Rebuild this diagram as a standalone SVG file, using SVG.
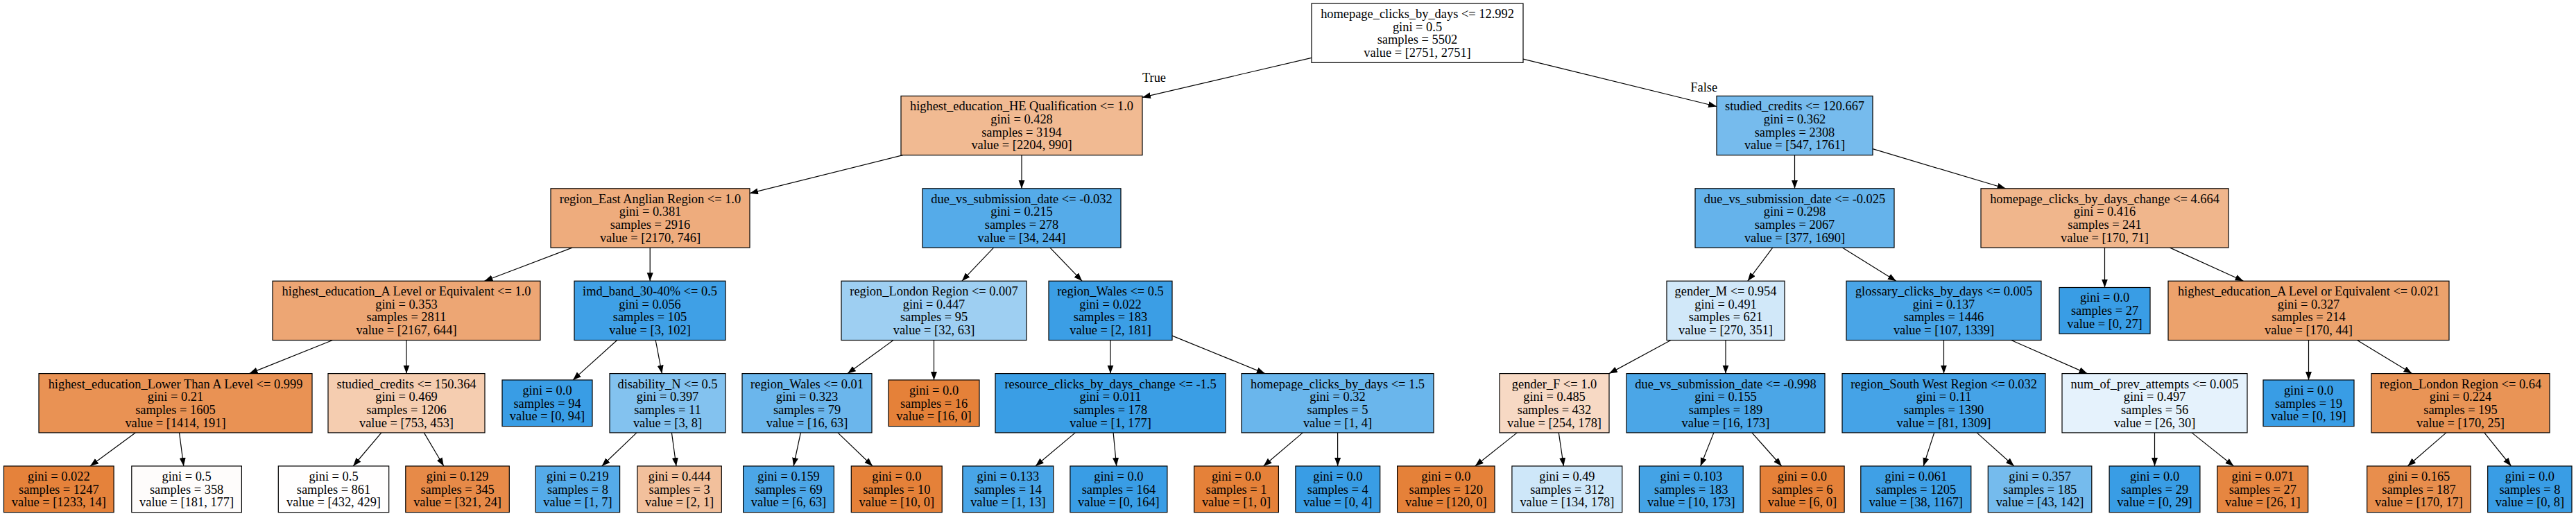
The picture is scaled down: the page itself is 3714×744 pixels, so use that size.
<svg xmlns="http://www.w3.org/2000/svg" width="3714" height="744" viewBox="0 0 3714 744">
<defs>
<marker id="ah" markerUnits="userSpaceOnUse" markerWidth="13" markerHeight="10" refX="12" refY="4.5" orient="auto">
<path d="M0,0 L12,4.5 L0,9 z" fill="#000"/>
</marker>
<style>
.n rect{stroke:#000;stroke-width:1.2}
text{font-family:"Liberation Serif","Times New Roman",serif;font-size:18.4px;fill:#000;text-anchor:middle}
#edges line{stroke:#000;stroke-width:1.2;marker-end:url(#ah)}
</style>
</defs>
<rect width="3714" height="744" fill="#fff"/>
<g id="edges">
<line x1="1891" y1="83.3" x2="1647" y2="140.4"/>
<line x1="2196" y1="85.1" x2="2475" y2="153.5"/>
<line x1="1301.8" y1="223.7" x2="1081" y2="278.7"/>
<line x1="1473" y1="223.7" x2="1473" y2="271.8"/>
<line x1="2587.5" y1="223.7" x2="2587.5" y2="271.8"/>
<line x1="2700" y1="214.6" x2="2891.6" y2="271.8"/>
<line x1="825.1" y1="357.1" x2="698.4" y2="405.2"/>
<line x1="937.2" y1="357.1" x2="937.2" y2="405.2"/>
<line x1="1432.6" y1="357.1" x2="1386.9" y2="405.2"/>
<line x1="1513.9" y1="357.1" x2="1560.1" y2="405.2"/>
<line x1="2555.7" y1="357.1" x2="2519.8" y2="405.2"/>
<line x1="2656.2" y1="357.1" x2="2733.8" y2="405.2"/>
<line x1="3034.5" y1="357.1" x2="3034.5" y2="414.5"/>
<line x1="3128.5" y1="357.1" x2="3234.5" y2="405.2"/>
<line x1="479.5" y1="490.5" x2="359.5" y2="538.6"/>
<line x1="586" y1="490.5" x2="586" y2="538.6"/>
<line x1="889.7" y1="490.5" x2="826" y2="547.9"/>
<line x1="945.2" y1="490.5" x2="954.4" y2="538.6"/>
<line x1="1288" y1="490.5" x2="1222" y2="538.6"/>
<line x1="1346.5" y1="490.5" x2="1346.5" y2="547.9"/>
<line x1="1601" y1="490.5" x2="1601" y2="538.6"/>
<line x1="1690" y1="484.1" x2="1823.8" y2="538.6"/>
<line x1="2409" y1="490.5" x2="2320" y2="538.6"/>
<line x1="2488" y1="490.5" x2="2488" y2="538.6"/>
<line x1="2802.5" y1="490.5" x2="2802.5" y2="538.6"/>
<line x1="2899.7" y1="490.5" x2="3009.3" y2="538.6"/>
<line x1="3328.5" y1="490.5" x2="3328.5" y2="547.9"/>
<line x1="3398.5" y1="490.5" x2="3477.5" y2="538.6"/>
<line x1="195.2" y1="623.9" x2="130" y2="672"/>
<line x1="258.5" y1="623.9" x2="264.8" y2="672"/>
<line x1="549.9" y1="623.9" x2="509.2" y2="672"/>
<line x1="611.3" y1="623.9" x2="639.8" y2="672"/>
<line x1="918" y1="623.9" x2="867.7" y2="672"/>
<line x1="968.4" y1="623.9" x2="975" y2="672"/>
<line x1="1154.4" y1="623.9" x2="1144.1" y2="672"/>
<line x1="1207.9" y1="623.9" x2="1258" y2="672"/>
<line x1="1550.3" y1="623.9" x2="1493" y2="672"/>
<line x1="1605.1" y1="623.9" x2="1609.7" y2="672"/>
<line x1="1878.3" y1="623.9" x2="1821.7" y2="672"/>
<line x1="1928.6" y1="623.9" x2="1928.6" y2="672"/>
<line x1="2187.3" y1="623.9" x2="2126.8" y2="672"/>
<line x1="2247.3" y1="623.9" x2="2254.4" y2="672"/>
<line x1="2470.9" y1="623.9" x2="2451.7" y2="672"/>
<line x1="2525.9" y1="623.9" x2="2568.7" y2="672"/>
<line x1="2788.7" y1="623.9" x2="2773.1" y2="672"/>
<line x1="2850.1" y1="623.9" x2="2903.8" y2="672"/>
<line x1="3106.5" y1="623.9" x2="3106.5" y2="672"/>
<line x1="3160" y1="623.9" x2="3220.4" y2="672"/>
<line x1="3526.9" y1="623.9" x2="3471.3" y2="672"/>
<line x1="3581.8" y1="623.9" x2="3620.5" y2="672"/>
<text x="1664" y="118">True</text>
<text x="2456.7" y="131.5">False</text>
</g>
<g id="n0" class="n"><rect x="1891" y="5" width="305" height="85.3" fill="#ffffff"/><text x="2043.5" y="25.9">homepage_clicks_by_days &lt;= 12.992<tspan x="2043.5" y="44.6">gini = 0.5</tspan><tspan x="2043.5" y="63.2">samples = 5502</tspan><tspan x="2043.5" y="81.9">value = [2751, 2751]</tspan></text></g>
<g id="n1" class="n"><rect x="1299" y="138.4" width="348" height="85.3" fill="#f1ba92"/><text x="1473" y="159.3">highest_education_HE Qualification &lt;= 1.0<tspan x="1473" y="178">gini = 0.428</tspan><tspan x="1473" y="196.6">samples = 3194</tspan><tspan x="1473" y="215.3">value = [2204, 990]</tspan></text></g>
<g id="n2" class="n"><rect x="2475" y="138.4" width="225" height="85.3" fill="#76bbed"/><text x="2587.5" y="159.3">studied_credits &lt;= 120.667<tspan x="2587.5" y="178">gini = 0.362</tspan><tspan x="2587.5" y="196.6">samples = 2308</tspan><tspan x="2587.5" y="215.3">value = [547, 1761]</tspan></text></g>
<g id="n3" class="n"><rect x="794" y="271.8" width="287" height="85.3" fill="#eeac7d"/><text x="937.5" y="292.7">region_East Anglian Region &lt;= 1.0<tspan x="937.5" y="311.4">gini = 0.381</tspan><tspan x="937.5" y="330">samples = 2916</tspan><tspan x="937.5" y="348.7">value = [2170, 746]</tspan></text></g>
<g id="n4" class="n"><rect x="1330" y="271.8" width="286" height="85.3" fill="#55abe9"/><text x="1473" y="292.7">due_vs_submission_date &lt;= -0.032<tspan x="1473" y="311.4">gini = 0.215</tspan><tspan x="1473" y="330">samples = 278</tspan><tspan x="1473" y="348.7">value = [34, 244]</tspan></text></g>
<g id="n5" class="n"><rect x="2444" y="271.8" width="287" height="85.3" fill="#65b3eb"/><text x="2587.5" y="292.7">due_vs_submission_date &lt;= -0.025<tspan x="2587.5" y="311.4">gini = 0.298</tspan><tspan x="2587.5" y="330">samples = 2067</tspan><tspan x="2587.5" y="348.7">value = [377, 1690]</tspan></text></g>
<g id="n6" class="n"><rect x="2856" y="271.8" width="357" height="85.3" fill="#f0b68c"/><text x="3034.5" y="292.7">homepage_clicks_by_days_change &lt;= 4.664<tspan x="3034.5" y="311.4">gini = 0.416</tspan><tspan x="3034.5" y="330">samples = 241</tspan><tspan x="3034.5" y="348.7">value = [170, 71]</tspan></text></g>
<g id="n7" class="n"><rect x="393" y="405.2" width="386" height="85.3" fill="#eda674"/><text x="586" y="426.1">highest_education_A Level or Equivalent &lt;= 1.0<tspan x="586" y="444.8">gini = 0.353</tspan><tspan x="586" y="463.4">samples = 2811</tspan><tspan x="586" y="482.1">value = [2167, 644]</tspan></text></g>
<g id="n8" class="n"><rect x="828" y="405.2" width="218" height="85.3" fill="#3fa0e6"/><text x="937" y="426.1">imd_band_30-40% &lt;= 0.5<tspan x="937" y="444.8">gini = 0.056</tspan><tspan x="937" y="463.4">samples = 105</tspan><tspan x="937" y="482.1">value = [3, 102]</tspan></text></g>
<g id="n9" class="n"><rect x="1213" y="405.2" width="267" height="85.3" fill="#9ecff2"/><text x="1346.5" y="426.1">region_London Region &lt;= 0.007<tspan x="1346.5" y="444.8">gini = 0.447</tspan><tspan x="1346.5" y="463.4">samples = 95</tspan><tspan x="1346.5" y="482.1">value = [32, 63]</tspan></text></g>
<g id="n10" class="n"><rect x="1512" y="405.2" width="178" height="85.3" fill="#3b9ee5"/><text x="1601" y="426.1">region_Wales &lt;= 0.5<tspan x="1601" y="444.8">gini = 0.022</tspan><tspan x="1601" y="463.4">samples = 183</tspan><tspan x="1601" y="482.1">value = [2, 181]</tspan></text></g>
<g id="n11" class="n"><rect x="2403" y="405.2" width="170" height="85.3" fill="#d1e8f9"/><text x="2488" y="426.1">gender_M &lt;= 0.954<tspan x="2488" y="444.8">gini = 0.491</tspan><tspan x="2488" y="463.4">samples = 621</tspan><tspan x="2488" y="482.1">value = [270, 351]</tspan></text></g>
<g id="n12" class="n"><rect x="2662" y="405.2" width="281" height="85.3" fill="#49a5e7"/><text x="2802.5" y="426.1">glossary_clicks_by_days &lt;= 0.005<tspan x="2802.5" y="444.8">gini = 0.137</tspan><tspan x="2802.5" y="463.4">samples = 1446</tspan><tspan x="2802.5" y="482.1">value = [107, 1339]</tspan></text></g>
<g id="n13" class="n"><rect x="2969" y="414.5" width="131" height="66.7" fill="#399de5"/><text x="3034.5" y="435.4">gini = 0.0<tspan x="3034.5" y="454.1">samples = 27</tspan><tspan x="3034.5" y="472.8">value = [0, 27]</tspan></text></g>
<g id="n14" class="n"><rect x="3126" y="405.2" width="405" height="85.3" fill="#eca26c"/><text x="3328.5" y="426.1">highest_education_A Level or Equivalent &lt;= 0.021<tspan x="3328.5" y="444.8">gini = 0.327</tspan><tspan x="3328.5" y="463.4">samples = 214</tspan><tspan x="3328.5" y="482.1">value = [170, 44]</tspan></text></g>
<g id="n15" class="n"><rect x="56" y="538.6" width="394" height="85.3" fill="#e99254"/><text x="253" y="559.5">highest_education_Lower Than A Level &lt;= 0.999<tspan x="253" y="578.2">gini = 0.21</tspan><tspan x="253" y="596.8">samples = 1605</tspan><tspan x="253" y="615.5">value = [1414, 191]</tspan></text></g>
<g id="n16" class="n"><rect x="473" y="538.6" width="226" height="85.3" fill="#f5cdb0"/><text x="586" y="559.5">studied_credits &lt;= 150.364<tspan x="586" y="578.2">gini = 0.469</tspan><tspan x="586" y="596.8">samples = 1206</tspan><tspan x="586" y="615.5">value = [753, 453]</tspan></text></g>
<g id="n17" class="n"><rect x="724" y="547.9" width="130" height="66.7" fill="#399de5"/><text x="789" y="568.8">gini = 0.0<tspan x="789" y="587.5">samples = 94</tspan><tspan x="789" y="606.2">value = [0, 94]</tspan></text></g>
<g id="n18" class="n"><rect x="879" y="538.6" width="167" height="85.3" fill="#83c2ef"/><text x="962.5" y="559.5">disability_N &lt;= 0.5<tspan x="962.5" y="578.2">gini = 0.397</tspan><tspan x="962.5" y="596.8">samples = 11</tspan><tspan x="962.5" y="615.5">value = [3, 8]</tspan></text></g>
<g id="n19" class="n"><rect x="1070" y="538.6" width="187" height="85.3" fill="#6bb6ec"/><text x="1163.5" y="559.5">region_Wales &lt;= 0.01<tspan x="1163.5" y="578.2">gini = 0.323</tspan><tspan x="1163.5" y="596.8">samples = 79</tspan><tspan x="1163.5" y="615.5">value = [16, 63]</tspan></text></g>
<g id="n20" class="n"><rect x="1281" y="547.9" width="131" height="66.7" fill="#e58139"/><text x="1346.5" y="568.8">gini = 0.0<tspan x="1346.5" y="587.5">samples = 16</tspan><tspan x="1346.5" y="606.2">value = [16, 0]</tspan></text></g>
<g id="n21" class="n"><rect x="1435" y="538.6" width="332" height="85.3" fill="#3a9ee5"/><text x="1601" y="559.5">resource_clicks_by_days_change &lt;= -1.5<tspan x="1601" y="578.2">gini = 0.011</tspan><tspan x="1601" y="596.8">samples = 178</tspan><tspan x="1601" y="615.5">value = [1, 177]</tspan></text></g>
<g id="n22" class="n"><rect x="1790" y="538.6" width="277" height="85.3" fill="#6ab6ec"/><text x="1928.5" y="559.5">homepage_clicks_by_days &lt;= 1.5<tspan x="1928.5" y="578.2">gini = 0.32</tspan><tspan x="1928.5" y="596.8">samples = 5</tspan><tspan x="1928.5" y="615.5">value = [1, 4]</tspan></text></g>
<g id="n23" class="n"><rect x="2162" y="538.6" width="158" height="85.3" fill="#f7d9c4"/><text x="2241" y="559.5">gender_F &lt;= 1.0<tspan x="2241" y="578.2">gini = 0.485</tspan><tspan x="2241" y="596.8">samples = 432</tspan><tspan x="2241" y="615.5">value = [254, 178]</tspan></text></g>
<g id="n24" class="n"><rect x="2345" y="538.6" width="286" height="85.3" fill="#4ba6e7"/><text x="2488" y="559.5">due_vs_submission_date &lt;= -0.998<tspan x="2488" y="578.2">gini = 0.155</tspan><tspan x="2488" y="596.8">samples = 189</tspan><tspan x="2488" y="615.5">value = [16, 173]</tspan></text></g>
<g id="n25" class="n"><rect x="2656" y="538.6" width="293" height="85.3" fill="#45a3e7"/><text x="2802.5" y="559.5">region_South West Region &lt;= 0.032<tspan x="2802.5" y="578.2">gini = 0.11</tspan><tspan x="2802.5" y="596.8">samples = 1390</tspan><tspan x="2802.5" y="615.5">value = [81, 1309]</tspan></text></g>
<g id="n26" class="n"><rect x="2973" y="538.6" width="267" height="85.3" fill="#e5f2fc"/><text x="3106.5" y="559.5">num_of_prev_attempts &lt;= 0.005<tspan x="3106.5" y="578.2">gini = 0.497</tspan><tspan x="3106.5" y="596.8">samples = 56</tspan><tspan x="3106.5" y="615.5">value = [26, 30]</tspan></text></g>
<g id="n27" class="n"><rect x="3263" y="547.9" width="131" height="66.7" fill="#399de5"/><text x="3328.5" y="568.8">gini = 0.0<tspan x="3328.5" y="587.5">samples = 19</tspan><tspan x="3328.5" y="606.2">value = [0, 19]</tspan></text></g>
<g id="n28" class="n"><rect x="3419" y="538.6" width="257" height="85.3" fill="#e99456"/><text x="3547.5" y="559.5">region_London Region &lt;= 0.64<tspan x="3547.5" y="578.2">gini = 0.224</tspan><tspan x="3547.5" y="596.8">samples = 195</tspan><tspan x="3547.5" y="615.5">value = [170, 25]</tspan></text></g>
<g id="l1" class="n"><rect x="5.5" y="672" width="158.6" height="66.7" fill="#e5823b"/><text x="84.8" y="692.9">gini = 0.022<tspan x="84.8" y="711.6">samples = 1247</tspan><tspan x="84.8" y="730.3">value = [1233, 14]</tspan></text></g>
<g id="l2" class="n"><rect x="189.8" y="672" width="158.6" height="66.7" fill="#fefcfb"/><text x="269.1" y="692.9">gini = 0.5<tspan x="269.1" y="711.6">samples = 358</tspan><tspan x="269.1" y="730.3">value = [181, 177]</tspan></text></g>
<g id="l3" class="n"><rect x="401.3" y="672" width="159.4" height="66.7" fill="#fffefe"/><text x="481" y="692.9">gini = 0.5<tspan x="481" y="711.6">samples = 861</tspan><tspan x="481" y="730.3">value = [432, 429]</tspan></text></g>
<g id="l4" class="n"><rect x="584.8" y="672" width="149.5" height="66.7" fill="#e78a48"/><text x="659.6" y="692.9">gini = 0.129<tspan x="659.6" y="711.6">samples = 345</tspan><tspan x="659.6" y="730.3">value = [321, 24]</tspan></text></g>
<g id="l5" class="n"><rect x="772.2" y="672" width="121.4" height="66.7" fill="#55abe9"/><text x="832.9" y="692.9">gini = 0.219<tspan x="832.9" y="711.6">samples = 8</tspan><tspan x="832.9" y="730.3">value = [1, 7]</tspan></text></g>
<g id="l6" class="n"><rect x="918.9" y="672" width="121.4" height="66.7" fill="#f2c09c"/><text x="979.6" y="692.9">gini = 0.444<tspan x="979.6" y="711.6">samples = 3</tspan><tspan x="979.6" y="730.3">value = [2, 1]</tspan></text></g>
<g id="l7" class="n"><rect x="1071.6" y="672" width="130.8" height="66.7" fill="#4ca6e7"/><text x="1137" y="692.9">gini = 0.159<tspan x="1137" y="711.6">samples = 69</tspan><tspan x="1137" y="730.3">value = [6, 63]</tspan></text></g>
<g id="l8" class="n"><rect x="1227.3" y="672" width="130.9" height="66.7" fill="#e58139"/><text x="1292.8" y="692.9">gini = 0.0<tspan x="1292.8" y="711.6">samples = 10</tspan><tspan x="1292.8" y="730.3">value = [10, 0]</tspan></text></g>
<g id="l9" class="n"><rect x="1387.9" y="672" width="130.9" height="66.7" fill="#48a5e7"/><text x="1453.4" y="692.9">gini = 0.133<tspan x="1453.4" y="711.6">samples = 14</tspan><tspan x="1453.4" y="730.3">value = [1, 13]</tspan></text></g>
<g id="l10" class="n"><rect x="1542.9" y="672" width="140" height="66.7" fill="#399de5"/><text x="1612.9" y="692.9">gini = 0.0<tspan x="1612.9" y="711.6">samples = 164</tspan><tspan x="1612.9" y="730.3">value = [0, 164]</tspan></text></g>
<g id="l11" class="n"><rect x="1721.6" y="672" width="121.8" height="66.7" fill="#e58139"/><text x="1782.5" y="692.9">gini = 0.0<tspan x="1782.5" y="711.6">samples = 1</tspan><tspan x="1782.5" y="730.3">value = [1, 0]</tspan></text></g>
<g id="l12" class="n"><rect x="1867.9" y="672" width="121.8" height="66.7" fill="#399de5"/><text x="1928.8" y="692.9">gini = 0.0<tspan x="1928.8" y="711.6">samples = 4</tspan><tspan x="1928.8" y="730.3">value = [0, 4]</tspan></text></g>
<g id="l13" class="n"><rect x="2014.6" y="672" width="140.4" height="66.7" fill="#e58139"/><text x="2084.8" y="692.9">gini = 0.0<tspan x="2084.8" y="711.6">samples = 120</tspan><tspan x="2084.8" y="730.3">value = [120, 0]</tspan></text></g>
<g id="l14" class="n"><rect x="2179.9" y="672" width="158.9" height="66.7" fill="#cee7f9"/><text x="2259.4" y="692.9">gini = 0.49<tspan x="2259.4" y="711.6">samples = 312</tspan><tspan x="2259.4" y="730.3">value = [134, 178]</tspan></text></g>
<g id="l15" class="n"><rect x="2363.4" y="672" width="149.8" height="66.7" fill="#44a3e6"/><text x="2438.3" y="692.9">gini = 0.103<tspan x="2438.3" y="711.6">samples = 183</tspan><tspan x="2438.3" y="730.3">value = [10, 173]</tspan></text></g>
<g id="l16" class="n"><rect x="2537.7" y="672" width="121.4" height="66.7" fill="#e58139"/><text x="2598.4" y="692.9">gini = 0.0<tspan x="2598.4" y="711.6">samples = 6</tspan><tspan x="2598.4" y="730.3">value = [6, 0]</tspan></text></g>
<g id="l17" class="n"><rect x="2682.8" y="672" width="159" height="66.7" fill="#3fa0e6"/><text x="2762.3" y="692.9">gini = 0.061<tspan x="2762.3" y="711.6">samples = 1205</tspan><tspan x="2762.3" y="730.3">value = [38, 1167]</tspan></text></g>
<g id="l18" class="n"><rect x="2866.3" y="672" width="149.5" height="66.7" fill="#75bbed"/><text x="2941.1" y="692.9">gini = 0.357<tspan x="2941.1" y="711.6">samples = 185</tspan><tspan x="2941.1" y="730.3">value = [43, 142]</tspan></text></g>
<g id="l19" class="n"><rect x="3041.1" y="672" width="130.8" height="66.7" fill="#399de5"/><text x="3106.5" y="692.9">gini = 0.0<tspan x="3106.5" y="711.6">samples = 29</tspan><tspan x="3106.5" y="730.3">value = [0, 29]</tspan></text></g>
<g id="l20" class="n"><rect x="3196.8" y="672" width="130.9" height="66.7" fill="#e68641"/><text x="3262.3" y="692.9">gini = 0.071<tspan x="3262.3" y="711.6">samples = 27</tspan><tspan x="3262.3" y="730.3">value = [26, 1]</tspan></text></g>
<g id="l21" class="n"><rect x="3412.7" y="672" width="149.5" height="66.7" fill="#e88e4d"/><text x="3487.5" y="692.9">gini = 0.165<tspan x="3487.5" y="711.6">samples = 187</tspan><tspan x="3487.5" y="730.3">value = [170, 17]</tspan></text></g>
<g id="l22" class="n"><rect x="3586.7" y="672" width="121.3" height="66.7" fill="#399de5"/><text x="3647.4" y="692.9">gini = 0.0<tspan x="3647.4" y="711.6">samples = 8</tspan><tspan x="3647.4" y="730.3">value = [0, 8]</tspan></text></g>
</svg>
